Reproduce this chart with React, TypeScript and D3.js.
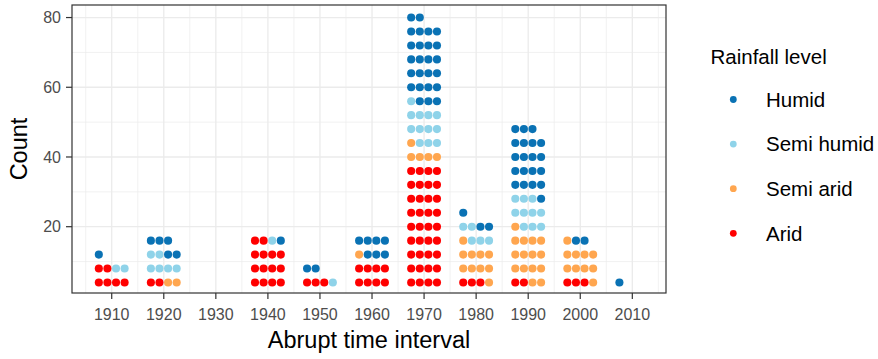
import React from "react";
import * as d3 from "d3";

const intervals = [1910, 1920, 1930, 1940, 1950, 1960, 1970, 1980, 1990, 2000, 2010];
const arid = [6, 2, 0, 14, 3, 8, 36, 3, 2, 3, 0];
const semiArid = [0, 2, 0, 0, 0, 1, 5, 10, 15, 10, 0];
const semiHumid = [2, 6, 0, 1, 1, 0, 12, 5, 10, 0, 0];
const humid = [1, 5, 0, 1, 2, 7, 25, 3, 20, 2, 1];

const levels = ["Arid", "Semi arid", "Semi humid", "Humid"];
const legendOrder = ["Humid", "Semi humid", "Semi arid", "Arid"];
const colors: Record<string, string> = {
  Humid: "#0a72b4",
  "Semi humid": "#8fd3e9",
  "Semi arid": "#ffa64f",
  Arid: "#ff0000",
};
const xTicks = [1910, 1920, 1930, 1940, 1950, 1960, 1970, 1980, 1990, 2000, 2010];
const xMinor = [1905, 1915, 1925, 1935, 1945, 1955, 1965, 1975, 1985, 1995, 2005, 2015];
const yTicks = [20, 40, 60, 80];
const yMinor = [10, 30, 50, 70];
const perRow = 4;
const rowStep = 4;

const W = 878;
const H = 359;
const panel = { left: 72, right: 666, top: 5, bottom: 293 };
const FONT = "'Liberation Sans', Arial, sans-serif";

export default function App() {
  const x = d3.scaleLinear().domain([1902.37, 2016.47]).range([panel.left, panel.right]);
  const y = d3.scaleLinear().domain([0.98, 83.6]).range([panel.bottom, panel.top]);
  const spacing = 8.6;
  const r = 4.05;

  const series: Record<string, number[]> = {
    Arid: arid,
    "Semi arid": semiArid,
    "Semi humid": semiHumid,
    Humid: humid,
  };

  const dots: { cx: number; cy: number; fill: string; key: string }[] = [];
  intervals.forEach((yr, i) => {
    let j = 0;
    levels.forEach((lv) => {
      const n = series[lv][i];
      for (let k = 0; k < n; k++) {
        const row = Math.floor(j / perRow) + 1;
        const col = j % perRow;
        dots.push({
          cx: x(yr) + (col - (perRow - 1) / 2) * spacing,
          cy: y(row * rowStep),
          fill: colors[lv],
          key: `${yr}-${j}`,
        });
        j++;
      }
    });
  });

  const grid = "#ebebeb";
  return (
    <svg
      width={W}
      height={H}
      style={{ position: "absolute", left: 0, top: 0, background: "#fff" }}
      fontFamily={FONT}
    >
      <rect x={0} y={0} width={W} height={H} fill="#fff" />
      {/* grid */}
      {yMinor.map((v) => (
        <line key={"ym" + v} x1={panel.left} x2={panel.right} y1={y(v)} y2={y(v)} stroke={grid} strokeWidth={0.7} />
      ))}
      {xMinor.filter((v) => x(v) > panel.left && x(v) < panel.right).map((v) => (
        <line key={"xm" + v} x1={x(v)} x2={x(v)} y1={panel.top} y2={panel.bottom} stroke={grid} strokeWidth={0.7} />
      ))}
      {yTicks.map((v) => (
        <line key={"yM" + v} x1={panel.left} x2={panel.right} y1={y(v)} y2={y(v)} stroke={grid} strokeWidth={1.3} />
      ))}
      {xTicks.map((v) => (
        <line key={"xM" + v} x1={x(v)} x2={x(v)} y1={panel.top} y2={panel.bottom} stroke={grid} strokeWidth={1.3} />
      ))}
      {/* dots */}
      {dots.map((d) => (
        <circle key={d.key} cx={d.cx} cy={d.cy} r={r} fill={d.fill} />
      ))}
      {/* panel border */}
      <rect
        x={panel.left}
        y={panel.top}
        width={panel.right - panel.left}
        height={panel.bottom - panel.top}
        fill="none"
        stroke="#333"
        strokeWidth={1.2}
      />
      {/* y axis */}
      {yTicks.map((v) => (
        <g key={"yt" + v}>
          <line x1={panel.left - 6} x2={panel.left} y1={y(v)} y2={y(v)} stroke="#333" strokeWidth={1.2} />
          <text x={panel.left - 11} y={y(v)} dy="0.36em" textAnchor="end" fontSize={16} fill="#4d4d4d">
            {v}
          </text>
        </g>
      ))}
      {/* x axis */}
      {xTicks.map((v) => (
        <g key={"xt" + v}>
          <line x1={x(v)} x2={x(v)} y1={panel.bottom} y2={panel.bottom + 6} stroke="#333" strokeWidth={1.2} />
          <text x={x(v)} y={319.5} textAnchor="middle" fontSize={16} fill="#4d4d4d">
            {v}
          </text>
        </g>
      ))}
      <text x={(panel.left + panel.right) / 2} y={348} textAnchor="middle" fontSize={23.5} fill="#000">
        Abrupt time interval
      </text>
      <text
        transform={`translate(27,${(panel.top + panel.bottom) / 2}) rotate(-90)`}
        textAnchor="middle"
        fontSize={23.5}
        fill="#000"
      >
        Count
      </text>
      {/* legend */}
      <text x={710.5} y={63.5} fontSize={20.5} fill="#000">
        Rainfall level
      </text>
      {legendOrder.map((lv, i) => {
        const cy = 99.5 + i * 44.6;
        return (
          <g key={"lg" + lv}>
            <circle cx={733.3} cy={cy} r={3.4} fill={colors[lv]} />
            <text x={766} y={cy} dy="0.36em" fontSize={20.5} fill="#000">
              {lv}
            </text>
          </g>
        );
      })}
    </svg>
  );
}
